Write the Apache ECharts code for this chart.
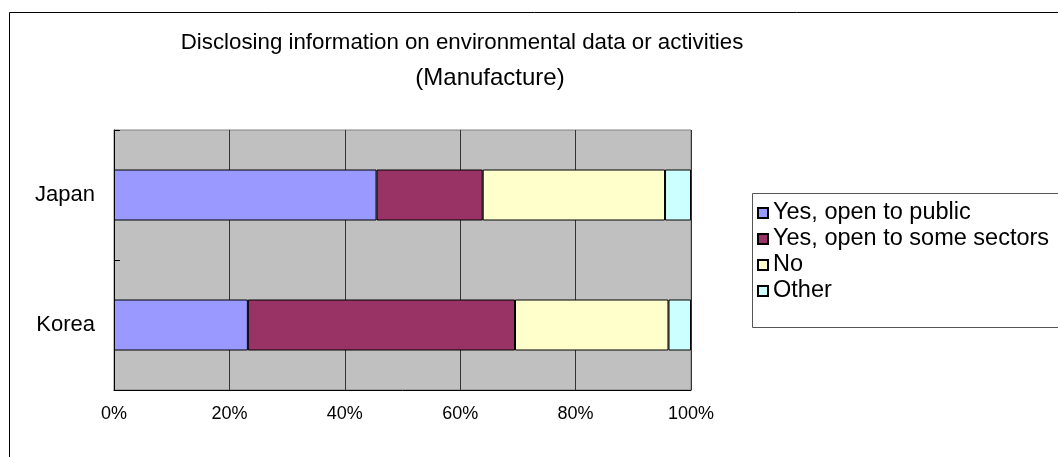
<!DOCTYPE html>
<html>
<head>
<meta charset="utf-8">
<script src="https://cdn.jsdelivr.net/npm/echarts@6/dist/echarts.min.js"></script>
<style>
html,body{margin:0;padding:0;background:#fff;}
#chart{width:1058px;height:457px;}
</style>
</head>
<body>
<div id="chart"></div>
<script>
var categories = ['Japan', 'Korea'];
var seriesNames = ['Yes, open to public', 'Yes, open to some sectors', 'No', 'Other'];
var yesPublic = [45.5, 23.2];
var yesSome = [18.4, 46.3];
var no = [31.6, 26.6];
var other = [4.5, 3.9];
var xTicks = [0, 20, 40, 60, 80, 100];
var titleLine1 = 'Disclosing information on environmental data or activities';
var titleLine2 = '(Manufacture)';

var colors = ['#9999FF', '#993366', '#FFFFCC', '#CCFFFF'];
var values = [yesPublic, yesSome, no, other];
var FONT = '"Liberation Sans", Arial, sans-serif';

var chart = echarts.init(document.getElementById('chart'), null, {renderer: 'canvas'});
var option = {
  animation: false,
  backgroundColor: '#ffffff',
  title: [
    {text: titleLine1, left: 457, top: 27, textAlign: 'center',
     textStyle: {fontFamily: FONT, fontSize: 22.3, fontWeight: 'normal', color: '#000'}},
    {text: titleLine2, left: 485, top: 61, textAlign: 'center',
     textStyle: {fontFamily: FONT, fontSize: 24, fontWeight: 'normal', color: '#000'}}
  ],
  graphic: [
    {type: 'rect', shape: {x: 9.5, y: 12.5, width: 1200, height: 600}, silent: true,
     style: {fill: 'none', stroke: '#000', lineWidth: 1}, z: 0},
    {type: 'rect', shape: {x: 752.5, y: 193.5, width: 400, height: 134}, silent: true,
     style: {fill: '#fff', stroke: '#555', lineWidth: 1}, z: 1}
  ],
  legend: {
    orient: 'vertical',
    left: 757,
    top: 201,
    padding: 0,
    itemWidth: 10,
    itemHeight: 10,
    itemGap: 2,
    icon: 'rect',
    data: seriesNames,
    z: 5,
    textStyle: {fontFamily: FONT, fontSize: 23.5, lineHeight: 20, color: '#000'}
  },
  grid: {
    left: 114, top: 130, width: 577, height: 260,
    show: true, backgroundColor: '#C0C0C0', borderColor: '#808080', borderWidth: 1
  },
  xAxis: {
    type: 'value', min: xTicks[0], max: xTicks[xTicks.length - 1], interval: 20,
    axisLine: {show: true, lineStyle: {color: '#000', width: 1}},
    axisTick: {show: false},
    splitLine: {show: true, lineStyle: {color: '#333', width: 1}},
    axisLabel: {formatter: '{value}%', fontFamily: FONT, fontSize: 18, color: '#000', margin: 15}
  },
  yAxis: {
    type: 'category', data: categories, inverse: true,
    axisLine: {show: true, lineStyle: {color: '#000', width: 1}},
    axisTick: {show: true, inside: true, length: 6, lineStyle: {color: '#000'}},
    splitLine: {show: false},
    axisLabel: {fontFamily: FONT, fontSize: 22, color: '#000', margin: 19}
  },
  series: seriesNames.map(function (name, i) {
    return {
      name: name, type: 'bar', stack: 'total', barWidth: 51,
      data: values[i],
      itemStyle: {color: colors[i], borderColor: '#000', borderWidth: 1}
    };
  })
};
chart.setOption(option);
</script>
</body>
</html>
